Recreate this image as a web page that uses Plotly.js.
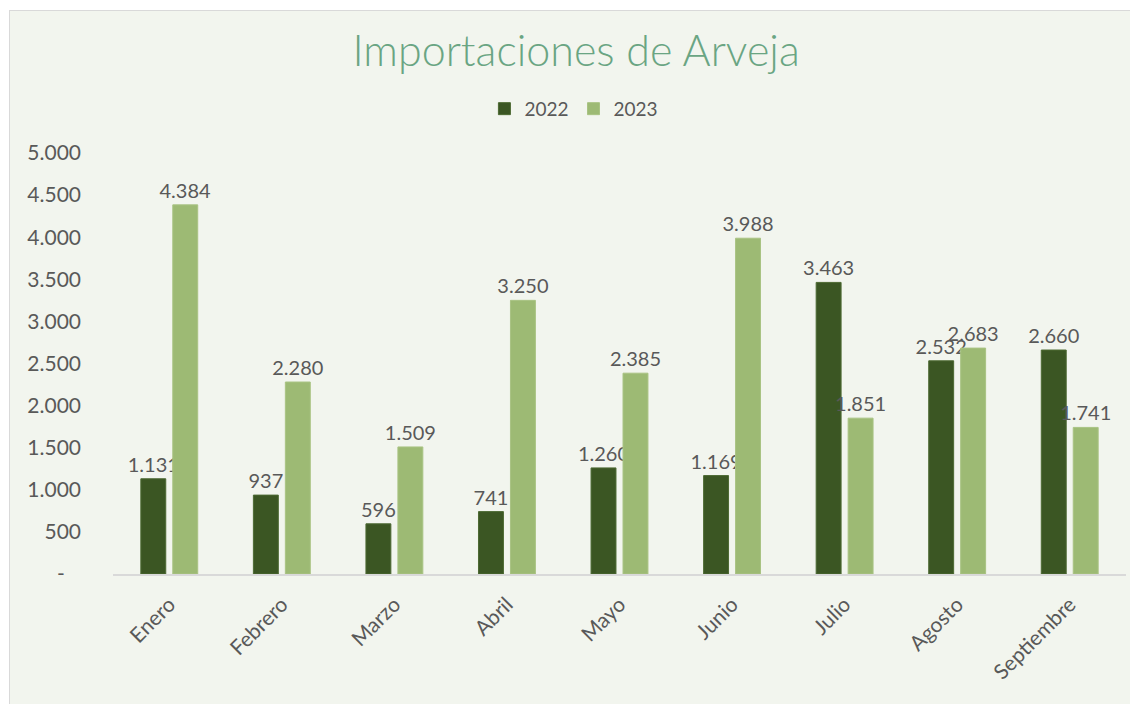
<!DOCTYPE html>
<html>
<head>
<meta charset="utf-8">
<script src="https://cdn.plot.ly/plotly-3.0.1.min.js"></script>
<style>
html,body{margin:0;padding:0;background:#ffffff;}
#chart{position:absolute;left:9px;top:10px;width:1121px;height:694px;border-left:1px solid #d9d9d9;border-top:1px solid #d9d9d9;}
</style>
</head>
<body>
<div id="chart"></div>
<script>
const months = ["Enero","Febrero","Marzo","Abril","Mayo","Junio","Julio","Agosto","Septiembre"];
const values2022 = [1131, 937, 596, 741, 1260, 1169, 3463, 2532, 2660];
const values2023 = [4384, 2280, 1509, 3250, 2385, 3988, 1851, 2683, 1741];
const tickValues = [0, 500, 1000, 1500, 2000, 2500, 3000, 3500, 4000, 4500, 5000];
const tickLabels = ["-\u00a0\u00a0\u00a0", "500", "1.000", "1.500", "2.000", "2.500", "3.000", "3.500", "4.000", "4.500", "5.000"];

const FONT = "Lato, 'Open Sans', sans-serif";
const labelFont = {family: FONT, size: 20, color: "#595959"};

const traces = [
  {
    type: "bar", name: "2022", x: months, y: values2022,
    marker: {color: "#3b5623", line: {color: "#4d6a33", width: 1}},
    texttemplate: "%{y:,.0f}", textposition: "outside", cliponaxis: false,
    constraintext: "none", textfont: labelFont, hoverinfo: "skip"
  },
  {
    type: "bar", name: "2023", x: months, y: values2023,
    marker: {color: "#9dba74", line: {color: "#a9c383", width: 1}},
    texttemplate: "%{y:,.0f}", textposition: "outside", cliponaxis: false,
    constraintext: "none", textfont: labelFont, hoverinfo: "skip"
  }
];

const layout = {
  width: 1121, height: 694,
  paper_bgcolor: "#f2f5ee", plot_bgcolor: "#f2f5ee",
  separators: ",.",
  margin: {l: 103, r: 5, t: 142, b: 131},
  font: {family: FONT, color: "#595959"},
  title: {
    text: "Importaciones de Arveja",
    font: {family: FONT, size: 43, weight: 300, color: "#6aa583"},
    x: 0.505, xanchor: "center", y: 0.943, yanchor: "middle"
  },
  legend: {
    orientation: "h", x: 0.455, xanchor: "center", y: 1.105, yanchor: "middle",
    font: {family: FONT, size: 19, color: "#595959"},
    itemwidth: 30, traceorder: "normal", bgcolor: "rgba(0,0,0,0)"
  },
  barmode: "group", bargap: 0.432, bargroupgap: 0.22,
  xaxis: {
    type: "category", tickangle: -45, showgrid: false, zeroline: false,
    showline: true, linecolor: "#d9d9d9", linewidth: 2, ticks: "",
    tickfont: {family: FONT, size: 21, color: "#595959"},
    ticklabelstandoff: 8, fixedrange: true
  },
  yaxis: {
    range: [0, 5000], tickvals: tickValues, ticktext: tickLabels,
    showgrid: false, zeroline: false, showline: false, ticks: "",
    tickfont: {family: FONT, size: 21, color: "#595959"},
    ticklabelstandoff: 31, fixedrange: true
  },
  showlegend: true, hovermode: false
};

Plotly.newPlot("chart", traces, layout, {displayModeBar: false, staticPlot: true});
</script>
</body>
</html>
